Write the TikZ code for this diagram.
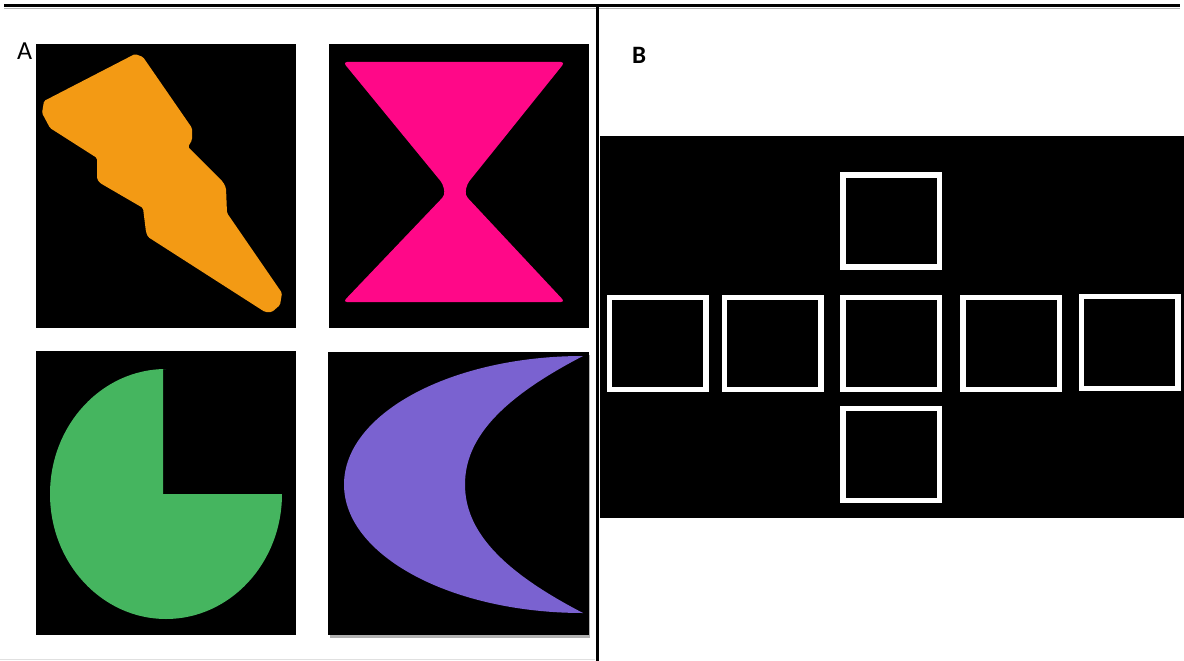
\documentclass[tikz,border=0pt]{standalone}
\usepackage{fontspec}
\setmainfont{Carlito}
\usetikzlibrary{positioning}
\definecolor{BoltOrange}{HTML}{F39A14}
\definecolor{GlassPink}{HTML}{FF0888}
\definecolor{PieGreen}{HTML}{45B55F}
\definecolor{MoonPurple}{HTML}{7A62D0}

\begin{document}
\begin{tikzpicture}[x=1pt, y=-1pt,
    every node/.style={font=\fontsize{26}{30}\selectfont},
    tile/.style={fill=black},
    cell/.style={rectangle, draw=white, line width=5.5pt, minimum width=96.5pt, minimum height=92pt, inner sep=0pt},
    rule/.style={line width=3pt, draw=black},
    panel label/.style={anchor=base west, inner sep=0pt}
  ]
  \useasboundingbox (0,0) rectangle (1184,661);
  \draw[black!30, line width=1.5pt] (4,8.5) -- (1180,8.5);
  \draw[rule] (4,5.5) -- (1180,5.5);
  \draw[rule] (597,5.5) -- (597,661);
  \draw[black!12, line width=1pt] (0,659) -- (595,659);

  \fill[tile] (36,44) rectangle (296,328);
  \fill[BoltOrange, rounded corners=1.5pt] (135,54) -- (143,57) -- (192,128) -- (192,140) -- (188,147) -- (223,182)
    -- (226,188) -- (227,213) -- (282,293) -- (280,305) -- (272,312) -- (265,312) -- (148,237) -- (146,232)
    -- (143,208) -- (100,183) -- (97,179) -- (97,158) -- (50,128) -- (42,113) -- (44,101) -- cycle;

  \fill[tile] (329,44) rectangle (589,328);
  \fill[GlassPink, rounded corners=4pt] (343,62) -- (565,62) -- (467,184) -- (465,195) -- (565,302)
    -- (343,302) -- (445,195) -- (443,184) -- cycle;

  \fill[tile] (36,351) rectangle (296,635);
  \fill[PieGreen] (163,494) -- (282,494) arc[start angle=0, end angle=-270, x radius=116pt, y radius=125pt]
    -- (163,369) -- cycle;

  \fill[black!30] (330,355) rectangle (590,638);
  \fill[tile] (328,352) rectangle (589,635);
  \fill[MoonPurple] (583,356) arc[start angle=90, end angle=270, x radius=239pt, y radius=128.5pt]
    .. controls (500,570) and (465,530) .. (465,484.5)
    .. controls (465,439) and (500,399) .. (583,356) -- cycle;

  \node[panel label] (labA) at (17,60) {A};
  \node[panel label, font=\fontsize{25}{30}\selectfont\bfseries] (labB) at (632,64) {B};

  \fill[tile] (600,136) rectangle (1184,518);
  \node[cell] (sqTop) at (891,221) {};
  \node[cell] (sqW2) at (657.5,343.5) {};
  \node[cell] (sqW1) at (772.5,343.5) {};
  \node[cell] (sqMid) at (891,343.5) {};
  \node[cell] (sqE1) at (1011,343.5) {};
  \node[cell] (sqE2) at (1129.5,342.5) {};
  \node[cell] (sqBot) at (891,454.5) {};
\end{tikzpicture}
\end{document}
